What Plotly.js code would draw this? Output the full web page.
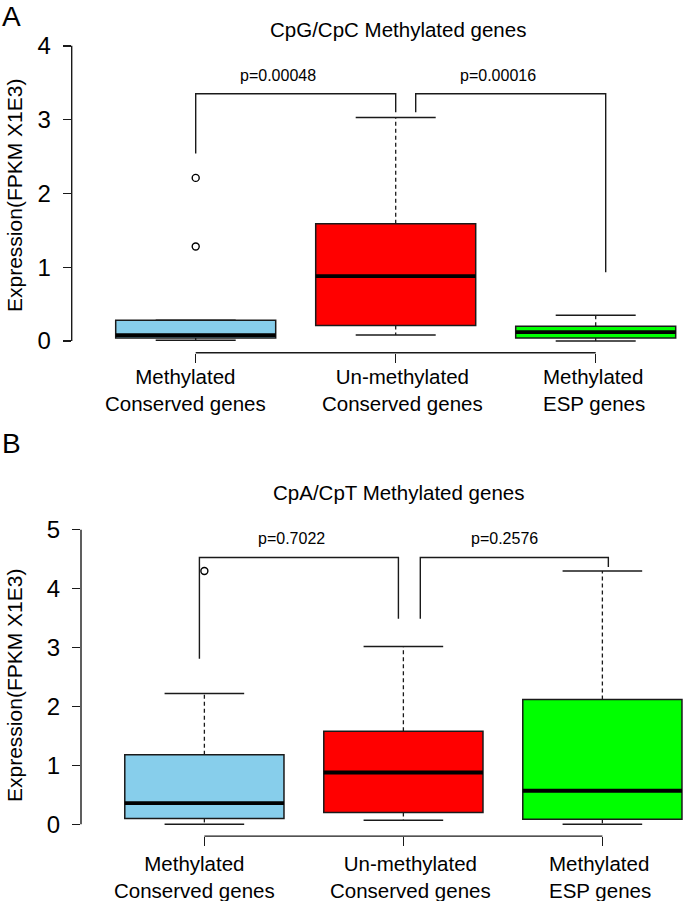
<!DOCTYPE html>
<html>
<head>
<meta charset="utf-8">
<script src="https://cdn.plot.ly/plotly-3.0.1.min.js"></script>
<style>
html,body{margin:0;padding:0;background:#fff;overflow:hidden;}
#chart{width:685px;height:901px;}
</style>
</head>
<body>
<div id="chart"></div>
<script>
// ---------- data ----------
const categories = [1, 2, 3];
const tickLabels = ["Methylated<br>Conserved genes", "Un-methylated<br>Conserved genes", "Methylated<br>ESP genes"];
const boxColors = ["#87CEEB", "#FF0000", "#00FF00"];

// Panel A: CpG/CpC methylated genes
const titleA = "CpG/CpC Methylated genes";
const aLow  = [0.01, 0.08, 0.00];
const aQ1   = [0.04, 0.21, 0.04];
const aMed  = [0.08, 0.88, 0.12];
const aQ3   = [0.28, 1.59, 0.20];
const aHigh = [0.28, 3.03, 0.35];
const aOutX = [1, 1];
const aOutY = [2.21, 1.28];
const aTicks = [0, 1, 2, 3, 4];
const aBracket1X = [1, 1, 2, 2];
const aBracket1Y = [2.54, 3.35, 3.35, 3.10];
const aBracket2X = [2.10, 2.10, 3.05, 3.05];
const aBracket2Y = [3.10, 3.35, 3.35, 0.93];
const aPText = ["p=0.00048", "p=0.00016"];
const aPX = [1.41, 2.51];
const aPY = [3.60, 3.60];

// Panel B: CpA/CpT methylated genes
const titleB = "CpA/CpT Methylated genes";
const bLow  = [0.00, 0.07, 0.00];
const bQ1   = [0.10, 0.20, 0.085];
const bMed  = [0.36, 0.88, 0.57];
const bQ3   = [1.18, 1.58, 2.12];
const bHigh = [2.22, 3.02, 4.30];
const bOutX = [1];
const bOutY = [4.30];
const bTicks = [0, 1, 2, 3, 4, 5];
const bBracket1X = [0.975, 0.975, 1.975, 1.975];
const bBracket1Y = [2.81, 4.53, 4.53, 3.49];
const bBracket2X = [2.085, 2.085, 3.03, 3.03];
const bBracket2Y = [3.49, 4.53, 4.53, 4.37];
const bPText = ["p=0.7022", "p=0.2576"];
const bPX = [1.44, 2.51];
const bPY = [4.86, 4.86];

const yTitle = "Expression(FPKM X1E3)";

// ---------- styling ----------
const W = 685, H = 901;
const FONT = "Liberation Sans, Arial, Helvetica, sans-serif";
const LINE = "#1a1a1a";
const BOXW = 0.8, CAPW = 0.4;
const labelShift = [-0.05, 0.035, -0.01];       // label placement offsets (x units)
const labelAlign = ["center", "center", "left"];

function panelTraces(xa, ya, low, q1, med, q3, high, outX, outY, br1x, br1y, br2x, br2y) {
  const tr = [];
  categories.forEach((c, i) => {
    tr.push({
      type: "box", xaxis: xa, yaxis: ya, x: [c],
      q1: [q1[i]], median: [med[i]], q3: [q3[i]],
      lowerfence: [q1[i]], upperfence: [q3[i]],
      width: BOXW, whiskerwidth: 0, boxpoints: false,
      fillcolor: boxColors[i], line: {color: LINE, width: 1.5},
      hoverinfo: "skip"
    });
  });
  const wx = [], wy = [];
  categories.forEach((c, i) => {
    wx.push(c, c, null, c, c, null);
    wy.push(q3[i], high[i], null, q1[i], low[i], null);
  });
  tr.push({type: "scatter", mode: "lines", xaxis: xa, yaxis: ya, x: wx, y: wy,
    line: {color: LINE, width: 1.3, dash: "4px,3px"}, hoverinfo: "skip"});
  const cx = [], cy = [];
  categories.forEach((c, i) => {
    cx.push(c - CAPW / 2, c + CAPW / 2, null, c - CAPW / 2, c + CAPW / 2, null);
    cy.push(high[i], high[i], null, low[i], low[i], null);
  });
  tr.push({type: "scatter", mode: "lines", xaxis: xa, yaxis: ya, x: cx, y: cy,
    line: {color: LINE, width: 1.5}, hoverinfo: "skip"});
  const mx = [], my = [];
  categories.forEach((c, i) => {
    mx.push(c - BOXW / 2, c + BOXW / 2, null);
    my.push(med[i], med[i], null);
  });
  tr.push({type: "scatter", mode: "lines", xaxis: xa, yaxis: ya, x: mx, y: my,
    line: {color: "#000", width: 3.8}, hoverinfo: "skip"});
  tr.push({type: "scatter", mode: "markers", xaxis: xa, yaxis: ya, x: outX, y: outY,
    marker: {symbol: "circle-open", size: 7, color: "#000", line: {width: 1.4}}, hoverinfo: "skip"});
  [[br1x, br1y], [br2x, br2y]].forEach(b => {
    tr.push({type: "scatter", mode: "lines", xaxis: xa, yaxis: ya, x: b[0], y: b[1],
      line: {color: LINE, width: 1.4}, hoverinfo: "skip"});
  });
  return tr;
}

const traces = []
  .concat(panelTraces("x", "y", aLow, aQ1, aMed, aQ3, aHigh, aOutX, aOutY, aBracket1X, aBracket1Y, aBracket2X, aBracket2Y))
  .concat(panelTraces("x2", "y2", bLow, bQ1, bMed, bQ3, bHigh, bOutX, bOutY, bBracket1X, bBracket1Y, bBracket2X, bBracket2Y));

const axA = 71.7, axB = 81;
const xSpanA = 200, xSpanB = 199;
const xLo = 0.38;

function xaxisDef(axPx, span, anchor) {
  return {
    domain: [axPx / W, 1], range: [xLo, xLo + (W - axPx) / span], anchor: anchor,
    showgrid: false, zeroline: false, showline: false, showticklabels: false,
    tickmode: "array", tickvals: categories,
    ticks: "outside", ticklen: 9, tickwidth: 1.4, tickcolor: LINE
  };
}
function yaxisDef(topPx, botPx, rng, ticks, anchor) {
  return {
    domain: [1 - botPx / H, 1 - topPx / H], range: rng, anchor: anchor,
    showgrid: false, zeroline: false, showline: false,
    tickmode: "array", tickvals: ticks, ticktext: ticks.map(String),
    ticks: "outside", ticklen: 8, tickwidth: 1.4, tickcolor: LINE,
    tickfont: {size: 24, color: "#000", family: FONT}, ticklabelstandoff: 7
  };
}

const annotations = [];
function addText(text, x, y, xref, yref, size, extra) {
  annotations.push(Object.assign({text: text, x: x, y: y, xref: xref, yref: yref,
    showarrow: false, font: {size: size, color: "#000", family: FONT}}, extra || {}));
}
aPText.forEach((t, i) => addText(t, aPX[i], aPY[i], "x", "y", 16));
bPText.forEach((t, i) => addText(t, bPX[i], bPY[i], "x2", "y2", 16));
// category labels under each panel
categories.forEach((c, i) => {
  addText(tickLabels[i], c + labelShift[i], 1 - 390 / H, "x", "paper", 20.5,
    {xanchor: "center", yanchor: "middle", align: labelAlign[i]});
  addText(tickLabels[i], c + labelShift[i], 1 - 876.5 / H, "x2", "paper", 20.5,
    {xanchor: "center", yanchor: "middle", align: labelAlign[i]});
});
addText(titleA, 398 / W, 1 - 29.3 / H, "paper", "paper", 20.5, {xanchor: "center", yanchor: "middle"});
addText(titleB, 398.5 / W, 1 - 492.7 / H, "paper", "paper", 20.5, {xanchor: "center", yanchor: "middle"});
addText("A", 11 / W, 1 - 17 / H, "paper", "paper", 28, {xanchor: "center", yanchor: "middle"});
addText("B", 11 / W, 1 - 443.5 / H, "paper", "paper", 28, {xanchor: "center", yanchor: "middle"});
addText(yTitle, 14 / W, 1 - 196 / H, "paper", "paper", 21, {textangle: -90, xanchor: "center", yanchor: "middle"});
addText(yTitle, 14 / W, 1 - 686 / H, "paper", "paper", 21, {textangle: -90, xanchor: "center", yanchor: "middle"});

const shapes = [];
function axisLines(xref, yref, ticks) {
  shapes.push({type: "line", xref: xref + " domain", yref: yref, x0: 0, x1: 0,
    y0: ticks[0], y1: ticks[ticks.length - 1], line: {color: LINE, width: 1.4}});
  shapes.push({type: "line", xref: xref, yref: yref + " domain", x0: categories[0], x1: categories[categories.length - 1],
    y0: 0, y1: 0, line: {color: LINE, width: 1.4}});
}
axisLines("x", "y", aTicks);
axisLines("x2", "y2", bTicks);

const layout = {
  width: W, height: H, margin: {l: 0, r: 0, t: 0, b: 0},
  paper_bgcolor: "#fff", plot_bgcolor: "#fff",
  showlegend: false, boxmode: "overlay",
  font: {family: FONT, color: "#000"},
  xaxis: xaxisDef(axA, xSpanA, "y"),
  yaxis: yaxisDef(34.0, 352.8, [-0.16, 4.16], aTicks, "x"),
  xaxis2: xaxisDef(axB, xSpanB, "y2"),
  yaxis2: yaxisDef(518.0, 836.1, [-0.2, 5.2], bTicks, "x2"),
  annotations: annotations, shapes: shapes
};

Plotly.newPlot("chart", traces, layout, {staticPlot: true, displayModeBar: false});
</script>
</body>
</html>
